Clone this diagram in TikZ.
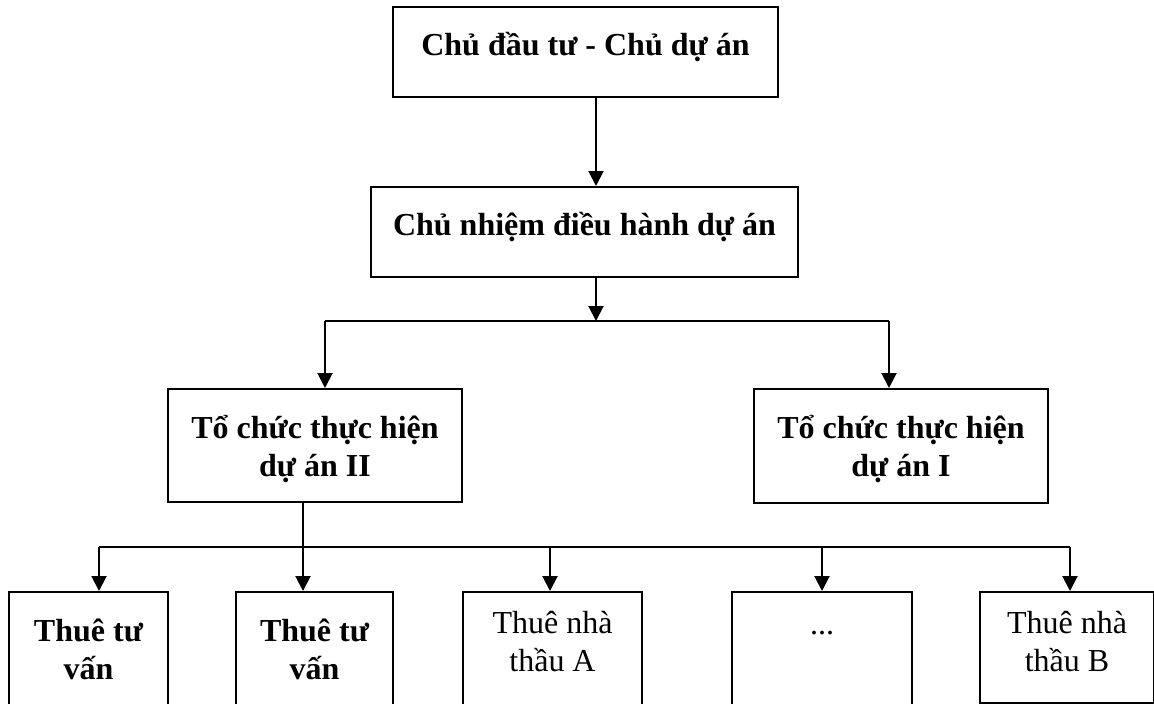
\documentclass[tikz,border=0pt]{standalone}
\usepackage{fontspec}
\setmainfont{Liberation Serif}
\usetikzlibrary{arrows.meta}
\begin{document}
\begin{tikzpicture}[x=1pt,y=-1pt,
  box/.style={draw, line width=2pt, inner sep=0pt, anchor=north west, align=center},
  bf/.style={font=\bfseries\fontsize{32}{38}\selectfont},
  rg/.style={font=\fontsize{32}{38}\selectfont},
  arr/.style={line width=2pt, -{Triangle[length=15pt,width=15pt]}},
  ln/.style={line width=2pt}]
\useasboundingbox[fill=white] (0,0) rectangle (1154,704);
\clip (0,0) rectangle (1154,704);
% level 1 and 2
\node[box,bf,minimum width=385pt,minimum height=90pt,text height=48pt,text depth=42pt] (t) at (392,6) {Chủ đầu tư - Chủ dự án};
\node[box,bf,minimum width=427pt,minimum height=90pt,text height=48pt,text depth=42pt] (m) at (370,186) {Chủ nhiệm điều hành dự án};
% level 3
\node[box,bf,minimum width=294pt,minimum height=113pt,text height=87pt,text depth=26pt] (p2) at (167,388) {Tổ chức thực hiện\\dự án II};
\node[box,bf,minimum width=294pt,minimum height=114pt,text height=87pt,text depth=27pt] (p1) at (753,388) {Tổ chức thực hiện\\dự án I};
% level 4
\node[box,bf,minimum width=159pt,minimum height=119pt,text height=87pt,text depth=32pt] (b1) at (8,591) {Thuê tư\\vấn};
\node[box,bf,minimum width=157pt,minimum height=119pt,text height=87pt,text depth=32pt] (b2) at (235,591) {Thuê tư\\vấn};
\node[box,rg,minimum width=179pt,minimum height=119pt,text height=79pt,text depth=40pt] (b3) at (462,591) {Thuê nhà\\thầu A};
\node[box,rg,minimum width=180pt,minimum height=119pt,text height=42pt,text depth=77pt] (b4) at (731,591) {...};
\node[box,rg,minimum width=174pt,minimum height=111pt,text height=79pt,text depth=32pt] (b5) at (979,591) {Thuê nhà\\thầu B};
% junctions
\coordinate (j1) at (596,321);
\coordinate (hl) at (325,321);
\coordinate (hr) at (889,321);
\coordinate (k) at (303,547);
\coordinate (kl) at (99,547);
\coordinate (kr) at (1070,547);
\coordinate (k3) at (550,547);
\coordinate (k4) at (822,547);
% connectors
\draw[arr] (t.south -| j1) -- (m.north -| j1);
\draw[arr] (m.south -| j1) -- (j1);
\draw[ln] (hl) -- (hr);
\draw[arr] (hl) -- (p2.north -| hl);
\draw[arr] (hr) -- (p1.north -| hr);
\draw[arr] (p2.south -| k) -- (b2.north -| k);
\draw[ln] (kl) -- (kr);
\draw[arr] (kl) -- (b1.north -| kl);
\draw[arr] (k3) -- (b3.north -| k3);
\draw[arr] (k4) -- (b4.north -| k4);
\draw[arr] (kr) -- (b5.north -| kr);
\end{tikzpicture}
\end{document}
